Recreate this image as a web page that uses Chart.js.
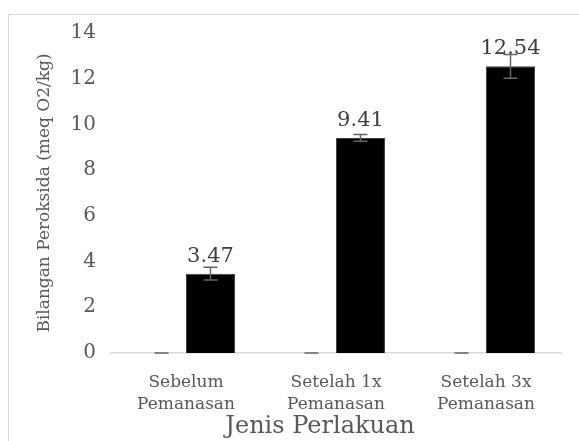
<!DOCTYPE html>
<html>
<head>
<meta charset="utf-8">
<script src="https://cdn.jsdelivr.net/npm/chart.js@4"></script>
<style>
  html, body { margin: 0; padding: 0; background: #fff; overflow: hidden; }
  #frame { position: absolute; left: 8px; top: 14px; width: 700px; height: 600px; border: 1px solid #d9d9d9; }
  #chart { position: absolute; left: 0; top: 0; }
</style>
</head>
<body>
<div id="frame"></div>
<canvas id="chart" width="579" height="441"></canvas>
<script>
const categories = [['Sebelum', 'Pemanasan'], ['Setelah 1x', 'Pemanasan'], ['Setelah 3x', 'Pemanasan']];
const kontrolValues = [0, 0, 0];
const kontrolErrors = [0, 0, 0];
const peroksidaValues = [3.47, 9.41, 12.54];
const peroksidaErrors = [0.28, 0.15, 0.52];
const yMin = 0;
const yMax = 14;
const yStep = 2;
const xTitle = 'Jenis Perlakuan';
const yTitle = 'Bilangan Peroksida (meq O2/kg)';

const SERIF = "'DejaVu Serif', 'Liberation Serif', serif";

// error bars + value labels
const errorBars = {
  id: 'errorBars',
  afterDatasetsDraw(chart) {
    const ctx = chart.ctx;
    const yScale = chart.scales.y;
    chart.data.datasets.forEach((ds, di) => {
      const meta = chart.getDatasetMeta(di);
      meta.data.forEach((bar, i) => {
        const v = ds.data[i];
        const e = ds.errors[i];
        const yTop = yScale.getPixelForValue(v + e);
        const yBot = yScale.getPixelForValue(v - e);
        ctx.save();
        ctx.strokeStyle = '#666666';
        ctx.lineWidth = 1.5;
        ctx.beginPath();
        ctx.moveTo(bar.x, yTop);
        ctx.lineTo(bar.x, yBot);
        ctx.moveTo(bar.x - 7, yTop);
        ctx.lineTo(bar.x + 7, yTop);
        ctx.moveTo(bar.x - 7, yBot);
        ctx.lineTo(bar.x + 7, yBot);
        ctx.stroke();
        if (ds.showLabels) {
          ctx.fillStyle = '#404040';
          ctx.font = '21px ' + SERIF;
          ctx.textAlign = 'center';
          ctx.textBaseline = 'alphabetic';
          ctx.fillText(v.toFixed(2), bar.x, bar.y - 12);
        }
        ctx.restore();
      });
    });
  }
};

// x axis title, centred like the original (a bit left of the plot centre)
const xTitlePlugin = {
  id: 'xTitlePlugin',
  afterDraw(chart) {
    const ctx = chart.ctx;
    ctx.save();
    ctx.fillStyle = '#595959';
    ctx.font = '24px ' + SERIF;
    ctx.textAlign = 'center';
    ctx.textBaseline = 'middle';
    ctx.fillText(xTitle, 320, 427);
    ctx.restore();
  }
};

new Chart(document.getElementById('chart'), {
  type: 'bar',
  data: {
    labels: categories,
    datasets: [{
      label: 'Kontrol',
      data: kontrolValues,
      errors: kontrolErrors,
      showLabels: false,
      backgroundColor: 'rgba(0,0,0,0)',
      borderWidth: 0,
      barPercentage: 1,
      categoryPercentage: 0.653
    }, {
      label: 'Bilangan Peroksida',
      data: peroksidaValues,
      errors: peroksidaErrors,
      showLabels: true,
      backgroundColor: '#000000',
      borderColor: '#404040',
      borderWidth: 1,
      barPercentage: 1,
      categoryPercentage: 0.653
    }]
  },
  options: {
    responsive: false,
    animation: false,
    layout: { padding: { left: 0, top: 33, right: 18, bottom: 0 } },
    plugins: {
      legend: { display: false },
      tooltip: { enabled: false }
    },
    scales: {
      x: {
        grid: { display: false, drawTicks: false },
        border: { display: true, color: '#d9d9d9', width: 1.5 },
        ticks: { color: '#595959', font: { family: SERIF, size: 17, lineHeight: 1.27 }, padding: 19, maxRotation: 0 },
        afterFit(scale) { scale.height = 88; }
      },
      y: {
        min: yMin,
        max: yMax,
        grid: { display: false, drawTicks: false },
        border: { display: false },
        ticks: { stepSize: yStep, color: '#595959', font: { family: SERIF, size: 20 }, padding: 15 },
        title: { display: true, text: yTitle, color: '#595959', font: { family: SERIF, size: 17 }, padding: { top: 34, bottom: 0 } },
        afterFit(scale) { scale.width = 111; }
      }
    }
  },
  plugins: [errorBars, xTitlePlugin]
});
</script>
</body>
</html>
